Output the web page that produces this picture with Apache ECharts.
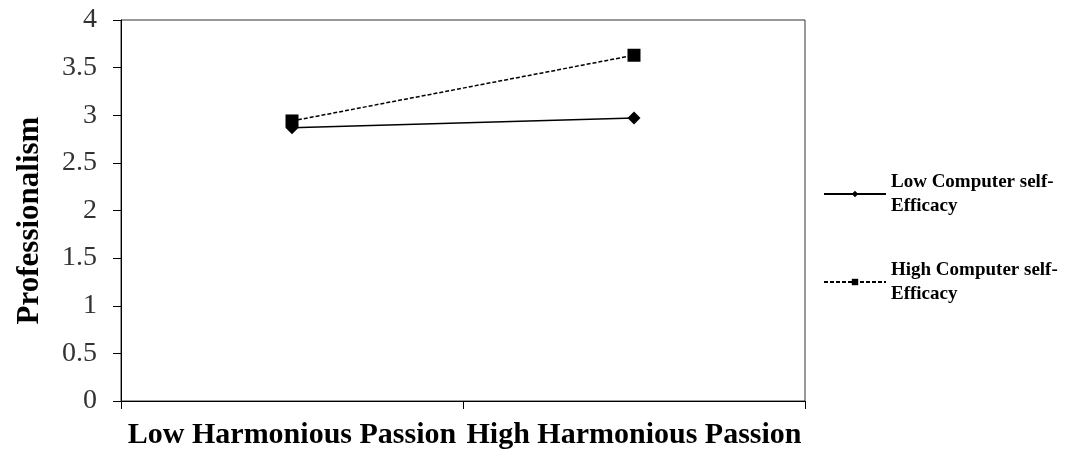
<!DOCTYPE html>
<html>
<head>
<meta charset="utf-8">
<script src="https://cdn.jsdelivr.net/npm/echarts@6/dist/echarts.min.js"></script>
<style>html,body{margin:0;padding:0;background:#fff}#c{width:1068px;height:450px}</style>
</head>
<body>
<div id="c"></div>
<script>
const categories = ['Low Harmonious Passion', 'High Harmonious Passion'];
const lowCSE = [2.87, 2.97];
const highCSE = [2.94, 3.63];
const yTicks = [0, 0.5, 1, 1.5, 2, 2.5, 3, 3.5, 4];
const seriesNames = ['Low Computer self-\nEfficacy', 'High Computer self-\nEfficacy'];

const font = 'Liberation Serif';
const chart = echarts.init(document.getElementById('c'));
const legendText = {fontFamily: font, fontWeight: 'bold', fontSize: 19, color: '#000', lineHeight: 24, padding: [24, 0, 0, 0]};
chart.setOption({
  animation: false,
  grid: {left: 121, right: 263, top: 20, bottom: 49, show: true, borderColor: '#333', borderWidth: 1},
  legend: [
    {data: [seriesNames[0]], left: 818, top: 153, itemWidth: 62, itemHeight: 8, itemGap: 8, textStyle: legendText},
    {data: [seriesNames[1]], left: 818, top: 241, itemWidth: 62, itemHeight: 8, itemGap: 8, textStyle: legendText}
  ],
  xAxis: {
    type: 'category', data: categories, boundaryGap: true,
    axisLine: {lineStyle: {color: '#000', width: 1}},
    axisTick: {show: true, interval: 0, length: 8, lineStyle: {color: '#000'}},
    axisLabel: {interval: 0, fontFamily: font, fontWeight: 'bold', fontSize: 30, color: '#000', margin: 19}
  },
  yAxis: {
    type: 'value', min: yTicks[0], max: yTicks[yTicks.length - 1], interval: 0.5,
    name: 'Professionalism', nameLocation: 'middle', nameGap: 76,
    nameTextStyle: {fontFamily: font, fontWeight: 'bold', fontSize: 31, color: '#000', padding: [0, 20, 0, 0]},
    axisLine: {show: true, lineStyle: {color: '#000', width: 1}},
    axisTick: {show: true, length: 8, lineStyle: {color: '#000'}},
    splitLine: {show: false},
    axisLabel: {fontFamily: font, fontSize: 28, color: '#333', margin: 24}
  },
  series: [
    {name: seriesNames[0], type: 'line', data: lowCSE, symbol: 'diamond', symbolSize: 13,
     itemStyle: {color: '#000'}, lineStyle: {color: '#000', width: 1.5}},
    {name: seriesNames[1], type: 'line', data: highCSE, symbol: 'rect', symbolSize: 13,
     itemStyle: {color: '#000'}, lineStyle: {color: '#000', width: 1.5, type: [4, 2]}}
  ]
});
</script>
</body>
</html>
